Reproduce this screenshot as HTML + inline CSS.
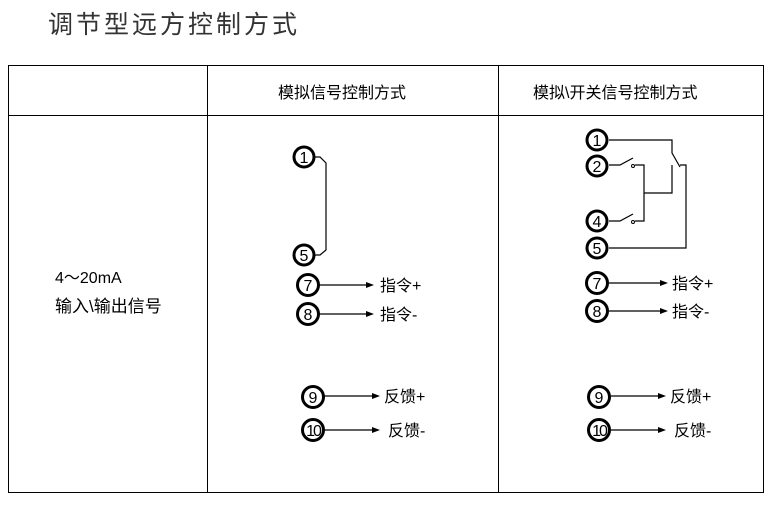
<!DOCTYPE html>
<html><head><meta charset="utf-8"><style>
html,body{margin:0;padding:0;background:#fff;}
svg text{font-family:"Liberation Sans","Noto Sans CJK SC","WenQuanYi Zen Hei",sans-serif;}
</style></head><body>
<svg width="773" height="507" viewBox="0 0 773 507" xmlns="http://www.w3.org/2000/svg">
<text x="48" y="33" font-size="25" fill="#333" font-family="'Noto Serif CJK SC',serif" letter-spacing="3">调节型远方控制方式</text>
<g stroke="#000" stroke-width="1" fill="none">
<rect x="8.5" y="65.5" width="755" height="427"/>
<line x1="8" y1="115.5" x2="764" y2="115.5"/>
<line x1="207.5" y1="65" x2="207.5" y2="493"/>
<line x1="498.5" y1="65" x2="498.5" y2="493"/>
</g>
<text x="278" y="98" font-size="16">模拟信号控制方式</text>
<text x="533" y="98" font-size="16">模拟\开关信号控制方式</text>
<text x="55" y="283" font-size="16" font-family="'Liberation Serif',serif">4～20mA</text>
<text x="55" y="312" font-size="17">输入\输出信号</text>

<g stroke="#000" stroke-width="1.2" fill="none">
<!-- left panel links -->
<polyline points="314,157 320,157 326,163 326,250 320,255 314,255"/>
<line x1="319" y1="285" x2="368" y2="285"/>
<line x1="319" y1="314" x2="368" y2="314"/>
<line x1="324" y1="396" x2="374" y2="396"/>
<line x1="324" y1="430" x2="374" y2="430"/>
<!-- right panel -->
<polyline points="609,140 672,140 672,153 680,167"/>
<polyline points="680,165 686,165 686,248 609,248"/>
<polyline points="609,165 620,165 633,158"/>
<polyline points="635,165 644,165 644,221 635,221"/>
<polyline points="609,221 620,221 633,214"/>
<polyline points="644,193 672,193 672,165"/>
<line x1="609" y1="283" x2="662" y2="283"/>
<line x1="609" y1="311" x2="662" y2="311"/>
<line x1="611" y1="396" x2="660" y2="396"/>
<line x1="611" y1="430" x2="660" y2="430"/>
</g>
<g fill="#fff" stroke="#000" stroke-width="1">
<circle cx="633" cy="166" r="1.5"/><circle cx="633" cy="222" r="1.5"/>
</g>
<g fill="#000">
<polygon points="374,285 366,282 366,288"/>
<polygon points="374,314 366,311 366,317"/>
<polygon points="380,396 372,393 372,399"/>
<polygon points="380,430 372,427 372,433"/>
<polygon points="668,283 660,280 660,286"/>
<polygon points="668,311 660,308 660,314"/>
<polygon points="666,396 658,393 658,399"/>
<polygon points="666,430 658,427 658,433"/>
</g>
<g fill="#fff" stroke="#000" stroke-width="3">
<circle cx="304" cy="157" r="10"/><circle cx="304" cy="255" r="10"/>
<circle cx="308" cy="285" r="10.5"/><circle cx="308" cy="314" r="10.5"/>
<circle cx="313" cy="397" r="10.5"/><circle cx="313" cy="430" r="10.5"/>
<circle cx="597" cy="140" r="10"/><circle cx="597" cy="166" r="10"/>
<circle cx="597" cy="221" r="10"/><circle cx="597" cy="248" r="10"/>
<circle cx="597" cy="283" r="10.5"/><circle cx="597" cy="311" r="10.5"/>
<circle cx="599" cy="397" r="10.5"/><circle cx="599" cy="430" r="10.5"/>
</g>
<g font-size="16" text-anchor="middle" font-family="'Liberation Sans',sans-serif">
<text x="304" y="163">1</text><text x="304" y="261">5</text>
<text x="308" y="291">7</text><text x="308" y="320">8</text>
<text x="313" y="403">9</text><text x="313" y="436" letter-spacing="-2">10</text>
<text x="597" y="146">1</text><text x="597" y="172">2</text>
<text x="597" y="227">4</text><text x="597" y="254">5</text>
<text x="597" y="289">7</text><text x="597" y="317">8</text>
<text x="599" y="403">9</text><text x="599" y="436" letter-spacing="-2">10</text>
</g>
<g font-size="16">
<text x="380" y="291">指令+</text><text x="380" y="320">指令-</text>
<text x="384" y="402">反馈+</text><text x="388" y="436">反馈-</text>
<text x="672" y="289">指令+</text><text x="672" y="317">指令-</text>
<text x="670" y="402">反馈+</text><text x="674" y="436">反馈-</text>
</g>
</svg>
</body></html>
